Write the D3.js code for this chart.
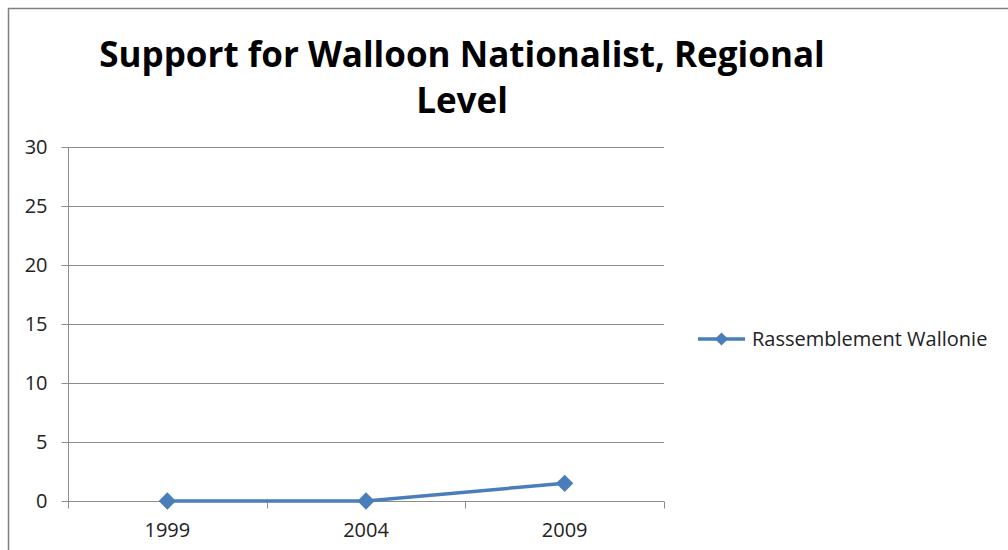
<!DOCTYPE html>
<html>
<head>
<meta charset="utf-8">
<script src="https://cdn.jsdelivr.net/npm/d3@7"></script>
<style>
  html, body { margin: 0; padding: 0; background: #fff; }
  svg { display: block; }
</style>
</head>
<body>
<script>
// Chart data
const years = ["1999", "2004", "2009"];
const seriesName = "Rassemblement Wallonie";
const values = [0, 0, 1.5];
const yTicks = [0, 5, 10, 15, 20, 25, 30];

const W = 1008, H = 550;
const font = "'Open Sans', 'Noto Sans', sans-serif";
const lineColor = "#4a7ebb";
const gridColor = "#8c8c8c";
const labelSize = 20;

const svg = d3.select("body").append("svg")
  .attr("width", W).attr("height", H);

// Outer chart border
svg.append("rect")
  .attr("x", 8.5).attr("y", 8.5)
  .attr("width", W + 20).attr("height", H + 20)
  .attr("fill", "#fff").attr("stroke", "#808080").attr("stroke-width", 1.5);

const plot = { left: 68, right: 664, top: 147, bottom: 501 };

const x = d3.scaleBand().domain(years).range([plot.left, plot.right]).padding(0);
const y = d3.scaleLinear().domain([0, 30]).range([plot.bottom, plot.top]);

// Title
const title = svg.append("text")
  .attr("text-anchor", "middle")
  .attr("font-family", font)
  .attr("font-weight", "bold")
  .attr("font-size", 35)
  .attr("fill", "#000");
title.append("tspan").attr("x", 462).attr("y", 67).text("Support for Walloon Nationalist, Regional");
title.append("tspan").attr("x", 462).attr("y", 113).text("Level");

// Horizontal gridlines
svg.append("g")
  .selectAll("line")
  .data(yTicks.filter(d => d > 0))
  .join("line")
  .attr("x1", plot.left).attr("x2", plot.right)
  .attr("y1", d => Math.round(y(d)) + 0.5).attr("y2", d => Math.round(y(d)) + 0.5)
  .attr("stroke", gridColor).attr("stroke-width", 1);

// Y axis
const yAxis = svg.append("g")
  .attr("transform", `translate(${plot.left + 0.5},0)`)
  .call(d3.axisLeft(y).tickValues(yTicks).tickSize(7).tickPadding(14));
yAxis.select(".domain").attr("stroke", gridColor).attr("d", `M0,${plot.top}V${plot.bottom}`);
yAxis.selectAll(".tick line").attr("stroke", gridColor);
yAxis.selectAll(".tick text")
  .attr("font-family", font).attr("font-size", labelSize).attr("fill", "#222");

// X axis with ticks between categories
const xg = svg.append("g").attr("transform", `translate(0,${plot.bottom + 0.5})`);
xg.append("line")
  .attr("x1", plot.left).attr("x2", plot.right)
  .attr("stroke", gridColor);
const bounds = years.map(d => x(d)).concat([x(years[years.length - 1]) + x.bandwidth()]);
xg.selectAll("line.tk").data(bounds).join("line")
  .attr("class", "tk")
  .attr("x1", d => Math.round(d) + 0.5).attr("x2", d => Math.round(d) + 0.5)
  .attr("y1", 0).attr("y2", 7)
  .attr("stroke", gridColor);
xg.selectAll("text").data(years).join("text")
  .attr("x", d => x(d) + x.bandwidth() / 2)
  .attr("y", 35)
  .attr("text-anchor", "middle")
  .attr("font-family", font).attr("font-size", labelSize).attr("fill", "#222")
  .text(d => d);

// Series line
const pts = years.map((d, i) => [x(d) + x.bandwidth() / 2, y(values[i])]);
svg.append("path")
  .attr("d", d3.line()(pts))
  .attr("fill", "none").attr("stroke", lineColor)
  .attr("stroke-width", 3.5).attr("stroke-linejoin", "round");

const diamond = d3.symbol().type(d3.symbolDiamond2).size(190);
svg.append("g").selectAll("path")
  .data(pts).join("path")
  .attr("transform", d => `translate(${d[0]},${d[1]})`)
  .attr("d", diamond)
  .attr("fill", lineColor);

// Legend
const lg = svg.append("g").attr("transform", "translate(698,339)");
lg.append("line").attr("x1", 0).attr("x2", 47)
  .attr("stroke", lineColor).attr("stroke-width", 3.5);
lg.append("path").attr("transform", "translate(23.5,0)")
  .attr("d", d3.symbol().type(d3.symbolDiamond2).size(110)).attr("fill", lineColor);
lg.append("text").attr("x", 54).attr("y", 7)
  .attr("font-family", font).attr("font-size", labelSize).attr("fill", "#222")
  .text(seriesName);
</script>
</body>
</html>
